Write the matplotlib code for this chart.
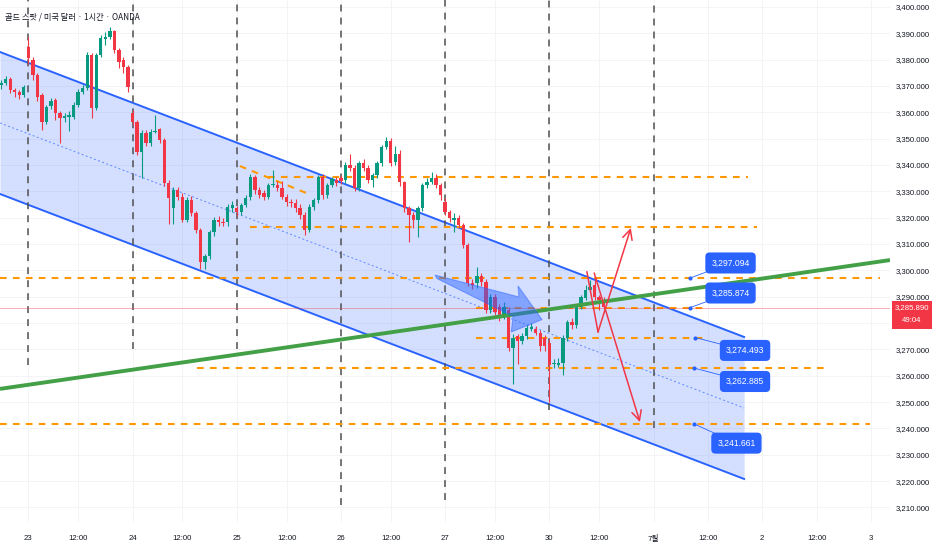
import matplotlib
matplotlib.use("Agg")
import matplotlib.pyplot as plt
from matplotlib.patches import Polygon, Rectangle
import numpy as np

plt.rcParams['font.family'] = ['Liberation Sans', 'Noto Sans CJK KR', 'DejaVu Sans']

# hourly candles, bar index 0 = 23rd 01:00 (23 bars per trading day)
bar_idx = list(range(-6, 128))
opens = [
    3370.4, 3371.2, 3372.7, 3368.5, 3367.8, 3366.6,
    # 23
    3384.7, 3379.8, 3374.2, 3366.6, 3356.5, 3362.5, 3364.8, 3359.8, 3358.0, 3358.4, 3358.3, 3362.9,
    3367.8, 3369.3, 3381.7, 3361.7, 3381.7, 3387.8, 3388.5, 3390.8, 3383.6, 3379.8, 3377.2,
    # 24
    3359.6, 3356.3, 3344.9, 3352.1, 3348.3, 3352.5, 3353.6, 3349.5, 3333.3, 3323.8, 3330.6, 3328.0,
    3319.3, 3326.8, 3321.9, 3315.5, 3303.1, 3305.3, 3314.4, 3319.3, 3318.5, 3318.2, 3323.8,
    # 25
    3323.7, 3322.2, 3324.9, 3327.9, 3335.4, 3330.5, 3329.4, 3327.9, 3332.4, 3332.4, 3331.3, 3327.9,
    3326.0, 3325.6, 3323.7, 3321.1, 3315.4, 3324.1, 3326.7, 3335.4, 3328.6, 3332.4, 3334.3,
    # 26
    3335.0, 3334.3, 3339.9, 3338.8, 3331.3, 3340.7, 3338.8, 3334.3, 3336.2, 3340.7, 3346.7, 3349.0,
    3341.1, 3344.1, 3333.5, 3323.7, 3321.1, 3319.2, 3323.7, 3332.4, 3333.5, 3335.0, 3332.4,
    # 27
    3325.8, 3322.0, 3319.0, 3319.7, 3317.1, 3309.6, 3295.2, 3295.2, 3297.9, 3295.6, 3285.1, 3290.0,
    3286.2, 3282.4, 3284.9, 3270.7, 3274.9, 3273.0, 3274.9, 3277.9, 3277.9, 3276.4, 3274.5,
    # 30
    3272.5, 3264.6, 3264.2, 3265.0, 3274.4, 3280.4, 3279.3, 3286.1, 3289.5, 3292.5, 3294.4, 3289.9,
    3288.7,
]
highs = [
    3372.4, 3373.9, 3373.4, 3369.4, 3368.4, 3370.4,
    3388.6, 3380.9, 3374.9, 3367.4, 3362.9, 3365.4, 3365.4, 3360.4, 3359.9, 3360.4, 3363.9, 3368.9,
    3370.4, 3382.9, 3382.4, 3382.4, 3389.4, 3390.4, 3392.4, 3391.4, 3384.4, 3380.9, 3377.9,
    3360.7, 3357.2, 3353.2, 3353.2, 3353.7, 3358.9, 3354.2, 3350.2, 3334.2, 3331.7, 3331.7, 3329.2,
    3327.7, 3328.2, 3322.7, 3316.2, 3306.2, 3315.2, 3320.2, 3320.7, 3319.7, 3325.2, 3326.2,
    3324.6, 3325.6, 3328.6, 3336.6, 3336.1, 3331.6, 3330.6, 3333.1, 3338.1, 3334.1, 3334.1, 3329.1,
    3327.1, 3327.1, 3325.1, 3322.1, 3325.1, 3327.6, 3336.1, 3336.6, 3333.1, 3335.6, 3335.6,
    3336.1, 3341.1, 3344.1, 3340.1, 3341.6, 3342.1, 3340.1, 3337.1, 3341.6, 3347.6, 3350.8, 3350.1,
    3347.1, 3345.6, 3334.1, 3324.6, 3322.1, 3324.6, 3333.1, 3335.1, 3337.3, 3336.6, 3333.1,
    3327.4, 3322.9, 3321.9, 3320.9, 3317.9, 3310.4, 3296.9, 3301.3, 3298.9, 3296.9, 3290.9, 3290.9,
    3287.4, 3287.9, 3285.9, 3275.9, 3275.9, 3276.4, 3279.4, 3279.9, 3278.9, 3277.4, 3275.4,
    3273.8, 3266.3, 3266.8, 3275.3, 3281.3, 3281.8, 3286.8, 3290.8, 3294.3, 3296.3, 3296.5, 3290.8,
    3289.8,
]
lows = [
    3368.9, 3370.4, 3367.4, 3365.9, 3364.9, 3365.9,
    3378.4, 3372.4, 3364.4, 3353.4, 3355.4, 3361.4, 3357.2, 3348.5, 3356.4, 3352.8, 3357.4, 3361.9,
    3366.9, 3368.4, 3358.0, 3360.9, 3380.9, 3385.4, 3387.9, 3382.4, 3376.9, 3374.9, 3367.9,
    3355.2, 3343.7, 3335.2, 3347.2, 3347.2, 3352.0, 3348.2, 3332.2, 3317.7, 3317.7, 3326.7, 3318.2,
    3318.2, 3320.7, 3314.2, 3300.4, 3300.7, 3304.2, 3313.2, 3316.7, 3316.7, 3316.7, 3322.2,
    3320.6, 3321.1, 3324.1, 3326.6, 3329.1, 3327.6, 3326.6, 3327.1, 3331.6, 3330.1, 3327.1, 3324.6,
    3324.1, 3322.1, 3319.6, 3313.5, 3314.6, 3323.1, 3325.6, 3327.1, 3327.6, 3331.6, 3332.1,
    3332.6, 3333.1, 3337.6, 3330.1, 3330.1, 3337.6, 3333.1, 3331.6, 3335.1, 3339.6, 3346.1, 3339.6,
    3340.1, 3332.1, 3322.1, 3310.9, 3316.1, 3312.8, 3322.6, 3331.1, 3332.6, 3331.1, 3326.6,
    3320.9, 3318.4, 3314.4, 3315.9, 3308.4, 3293.9, 3292.9, 3293.4, 3293.9, 3283.9, 3283.9, 3282.9,
    3280.7, 3281.4, 3269.4, 3256.8, 3264.4, 3271.9, 3273.9, 3276.9, 3275.4, 3269.4, 3269.4,
    3249.9, 3262.8, 3263.3, 3260.4, 3273.3, 3277.8, 3278.3, 3285.3, 3288.8, 3291.8, 3288.8, 3284.8,
    3285.5,
]
closes = [
    3371.2, 3372.7, 3368.5, 3367.8, 3366.6, 3369.7,
    3380.6, 3374.2, 3365.9, 3356.5, 3362.1, 3364.4, 3359.8, 3358.0, 3358.7, 3358.9, 3362.9, 3367.8,
    3369.3, 3381.7, 3361.7, 3381.7, 3388.1, 3388.5, 3390.8, 3383.6, 3379.1, 3377.2, 3369.7,
    3356.3, 3344.9, 3352.1, 3348.3, 3352.5, 3352.9, 3349.5, 3333.3, 3327.6, 3330.6, 3328.0, 3319.3,
    3326.8, 3321.9, 3315.5, 3303.1, 3305.3, 3314.4, 3319.3, 3318.2, 3318.0, 3324.2, 3325.0,
    3322.2, 3324.9, 3327.5, 3335.4, 3330.5, 3328.6, 3327.9, 3332.4, 3332.7, 3331.3, 3327.9, 3326.0,
    3325.6, 3323.7, 3321.1, 3315.4, 3324.1, 3326.7, 3335.4, 3328.6, 3332.4, 3334.7, 3333.2,
    3333.9, 3339.9, 3338.8, 3331.3, 3340.7, 3338.8, 3334.3, 3336.2, 3340.7, 3346.7, 3349.0, 3340.7,
    3344.1, 3333.5, 3323.7, 3321.1, 3319.2, 3323.7, 3332.4, 3333.5, 3335.0, 3332.4, 3328.6,
    3322.0, 3319.7, 3319.7, 3317.1, 3309.6, 3295.2, 3294.5, 3297.9, 3295.6, 3285.1, 3290.0, 3284.3,
    3282.4, 3286.2, 3270.7, 3274.5, 3273.0, 3274.9, 3278.3, 3278.6, 3276.4, 3271.1, 3271.1,
    3264.2, 3265.0, 3265.0, 3274.4, 3280.4, 3279.3, 3286.1, 3289.9, 3292.5, 3293.6, 3289.9, 3288.7,
    3285.9,
]
last_price = 3285.890
countdown = "49:04"

# time axis
tick_pos = [0, 11, 23, 34, 46, 57, 69, 80, 92, 103, 115, 126, 138, 150, 162, 174, 186]
tick_txt = ["23", "12:00", "24", "12:00", "25", "12:00", "26", "12:00", "27", "12:00",
            "30", "12:00", "7월", "12:00", "2", "12:00", "3"]
price_ticks = [p for p in range(3210, 3401, 10) if p != 3280]

# drawings (bar index, price)
day_lines = [0, 23, 46, 69, 92, 115, 138]
day_line_bottom = [3264.1, 3270.1, 3270.1, 3210.9, 3212.8, 3247.0, 3240.2]
channel_top = [(-6.25, 3382.9), (158.0, 3274.7)]
channel_width = 53.9
trend_green = [(-6.25, 3255.0), (190.2, 3303.9)]
levels = [3335.6, 3316.6, 3297.094, 3285.874, 3274.493, 3262.885, 3241.661]
level_span = [(53, 158.9), (48.9, 160.9), (-6.25, 188), (98.8, 149.8), (98.8, 149.8),
              (37.2, 177.0), (-6.25, 185.8)]
sloped_level = [(46.7, 3339.6), (61.3, 3329.4)]
label_vals = [3297.094, 3285.874, 3274.493, 3262.885, 3241.661]
label_anchor_x = [146.1, 146.1, 147.2, 147.0, 147.0]
label_box = [(155.0, 3302.8), (155.0, 3291.4), (158.2, 3269.6), (158.2, 3257.8), (156.3, 3234.4)]
blue_arrow = [(89.8, 3298.2), (108.3, 3289.9), (108.1, 3294.1), (113.4, 3281.3),
              (106.6, 3276.6), (107.0, 3282.5), (90.2, 3296.9)]
red_v = [(123.3, 3299.4), (125.75, 3276.6)]
red_up = [(125.75, 3276.6), (133.0, 3316.1)]
red_down = [(124.9, 3299.0), (135.0, 3242.4)]

UP = "#089981"
DOWN = "#f23645"
BLUE = "#2962ff"
ORANGE = "#ff9800"

fig = plt.figure(figsize=(9.32, 5.5), dpi=100)
ax = fig.add_axes([0, 28 / 550, 890 / 932, 522 / 550])
ax.set_xlim(-6.25, 190.2)
ax.set_ylim(3204.46, 3402.64)

# faint grid
for p in range(3210, 3401, 10):
    ax.axhline(p, color="#f2f3f6", lw=0.6, zorder=0)
for t in tick_pos:
    ax.axvline(t, color="#f2f3f6", lw=0.6, zorder=0)

# channel
xs = np.array([channel_top[0][0], channel_top[1][0]])
top = np.array([channel_top[0][1], channel_top[1][1]])
bot = top - channel_width
ax.fill_between(xs, bot, top, color=BLUE, alpha=0.2, lw=0, zorder=1)
ax.plot(xs, top, color=BLUE, lw=1.4, zorder=2)
ax.plot(xs, bot, color=BLUE, lw=1.4, zorder=2)
ax.plot(xs, top - channel_width / 2, color=BLUE, lw=0.7, alpha=0.7,
        linestyle=(0, (2, 2.5)), zorder=2)

# vertical day separators
for x, b in zip(day_lines, day_line_bottom):
    ax.plot([x, x], [b, 3402.64], color="#505050", lw=1.1,
            linestyle=(0, (4.5, 4)), zorder=2)

# orange levels
for lv, (x0, x1) in zip(levels, level_span):
    ax.plot([x0, x1], [lv, lv], color=ORANGE, lw=1.5, linestyle=(0, (3.2, 3)), zorder=2)
ax.plot([sloped_level[0][0], sloped_level[1][0]], [sloped_level[0][1], sloped_level[1][1]],
        color=ORANGE, lw=1.5, linestyle=(0, (3.2, 3)), zorder=2)

# current price line
ax.axhline(last_price, color=DOWN, lw=0.7, alpha=0.4, zorder=2)

# candles
o = np.array(opens)
c = np.array(closes)
up = c >= o
cols = np.where(up, UP, DOWN)
ax.vlines(bar_idx, lows, highs, colors=cols, lw=0.8, zorder=3)
body_h = np.maximum(np.abs(c - o), 0.35)
ax.bar(bar_idx, body_h, bottom=np.minimum(o, c), width=0.74, color=cols, lw=0, zorder=4)

# green trend line
ax.plot([trend_green[0][0], trend_green[1][0]], [trend_green[0][1], trend_green[1][1]],
        color="#43a047", lw=2.8, solid_capstyle="butt", zorder=5)

# blue arrow
ax.add_patch(Polygon(blue_arrow, closed=True, facecolor=BLUE, alpha=0.48,
                     edgecolor=BLUE, lw=0.8, zorder=6))

# red arrows
ax.plot([red_v[0][0], red_v[1][0]], [red_v[0][1], red_v[1][1]], color=DOWN, lw=1.1, zorder=7)
for seg in (red_up, red_down):
    ax.annotate("", xy=seg[1], xytext=seg[0],
                arrowprops=dict(arrowstyle="->,head_length=0.7,head_width=0.35",
                                color=DOWN, lw=1.1, shrinkA=0, shrinkB=0), zorder=7)

# price labels
for v, ax_x, (bx, by) in zip(label_vals, label_anchor_x, label_box):
    ax.plot([ax_x, bx], [v, by], color="#2962ff", lw=0.6, zorder=8)
    ax.plot(ax_x, v, "o", color="#2962ff", ms=2, zorder=8)
    ax.text(bx, by, f"{v:,.3f}", color="white", fontsize=6.2, ha="center", va="center",
            zorder=9, bbox=dict(boxstyle="round,pad=0.7,rounding_size=0.5",
                                fc=BLUE, ec="none"))

# axes cosmetics
for s in ax.spines.values():
    s.set_visible(False)
ax.yaxis.tick_right()
ax.set_yticks(price_ticks)
ax.set_yticklabels([f"{p:,.3f}" for p in price_ticks])
ax.set_xticks(tick_pos)
ax.set_xticklabels(tick_txt, va="center")
ax.tick_params(axis="y", length=0, pad=4, labelsize=5.6, labelcolor="#131722")
ax.tick_params(axis="x", length=0, pad=12, labelsize=5.6, labelcolor="#131722")
for lbl in ax.get_xticklabels():
    if "월" in lbl.get_text():
        lbl.set_family(["Noto Sans CJK KR", "DejaVu Sans"])

# last price tag on the price scale
fig.patches.append(Rectangle((892 / 932, 1 - 329 / 550), 40 / 932, 28 / 550,
                             transform=fig.transFigure, fc=DOWN, ec="none", zorder=10))
fig.text(912 / 932, 1 - 308 / 550, f"{last_price:,.3f}", color="white", fontsize=5.6,
         ha="center", va="center", zorder=11)
fig.text(912 / 932, 1 - 320 / 550, countdown, color="white", fontsize=5.6,
         ha="center", va="center", zorder=11)

fig.text(5 / 932, 1 - 17 / 550, "골드 스팟 / 미국 달러 · 1시간 · OANDA", color="#131722",
         fontsize=5.9, ha="left", va="center", family=["Noto Sans CJK KR", "DejaVu Sans"])

fig.savefig("out.png", dpi=100)
